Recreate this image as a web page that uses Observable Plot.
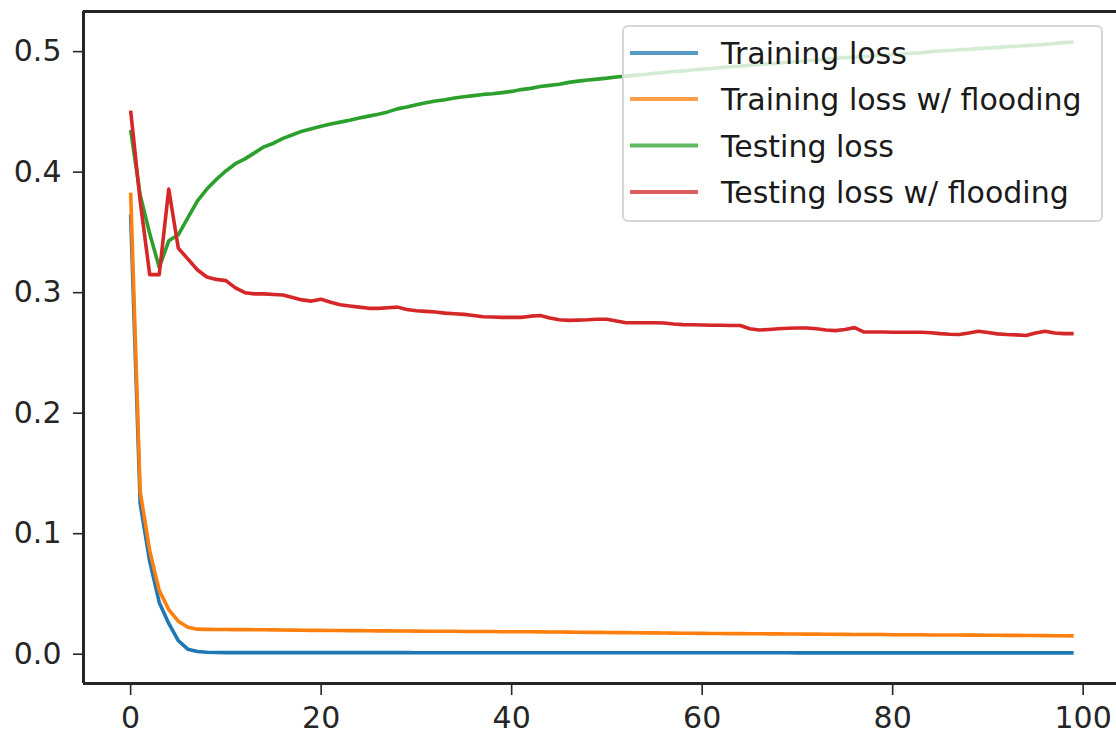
<!DOCTYPE html>
<html>
<head>
<meta charset="utf-8">
<script src="https://cdn.jsdelivr.net/npm/d3@7"></script>
<script src="https://cdn.jsdelivr.net/npm/@observablehq/plot@0.6"></script>
<style>
html, body { margin: 0; padding: 0; background: #fff; }
#wrap { position: relative; width: 1116px; height: 735px; overflow: hidden; font-family: "DejaVu Sans", sans-serif; }
#legend { position: absolute; left: 622px; top: 25px; }
</style>
</head>
<body>
<div id="wrap"></div>
<script>
// ---- data ----
const seriesNames = ["Training loss", "Training loss w/ flooding", "Testing loss", "Testing loss w/ flooding"];
const seriesColors = ["#1f77b4", "#ff7f0e", "#2ca02c", "#d62728"];
const xTicks = [0, 20, 40, 60, 80, 100];
const yTicks = [0.0, 0.1, 0.2, 0.3, 0.4, 0.5];
const xDomain = [-4.95, 103.5];
const yDomain = [-0.0243, 0.5333];

const trainLoss = [
  0.365, 0.125, 0.077, 0.043, 0.0255, 0.0112, 0.0042, 0.0022, 0.0016, 0.0014,
  0.0013, 0.0013, 0.0013, 0.0013, 0.0013, 0.0013, 0.0013, 0.0013, 0.0013, 0.0013,
  0.0013, 0.0013, 0.0013, 0.0013, 0.0013, 0.0013, 0.0013, 0.0013, 0.0013, 0.0013,
  0.0012, 0.0012, 0.0012, 0.0012, 0.0012, 0.0012, 0.0012, 0.0012, 0.0012, 0.0012,
  0.0012, 0.0012, 0.0012, 0.0012, 0.0012, 0.0012, 0.0012, 0.0012, 0.0012, 0.0012,
  0.0012, 0.0012, 0.0012, 0.0012, 0.0012, 0.0012, 0.0012, 0.0012, 0.0012, 0.0012,
  0.0012, 0.0012, 0.0012, 0.0012, 0.0012, 0.0012, 0.0012, 0.0012, 0.0012, 0.0012,
  0.0011, 0.0011, 0.0011, 0.0011, 0.0011, 0.0011, 0.0011, 0.0011, 0.0011, 0.0011,
  0.0011, 0.0011, 0.0011, 0.0011, 0.0011, 0.0011, 0.0011, 0.0011, 0.0011, 0.0011,
  0.0011, 0.0011, 0.0011, 0.0011, 0.0011, 0.0011, 0.0011, 0.0011, 0.0011, 0.0011
];
const trainFlood = [
  0.383, 0.135, 0.086, 0.053, 0.037, 0.0274, 0.0224, 0.0208, 0.0206, 0.0205,
  0.0205, 0.0204, 0.0204, 0.0203, 0.0203, 0.0202, 0.0201, 0.0200, 0.0199, 0.0198,
  0.0198, 0.0197, 0.0197, 0.0196, 0.0196, 0.0195, 0.0194, 0.0194, 0.0193, 0.0192,
  0.0192, 0.0191, 0.0191, 0.0190, 0.0190, 0.0189, 0.0189, 0.0188, 0.0188, 0.0187,
  0.0187, 0.0186, 0.0186, 0.0185, 0.0184, 0.0184, 0.0183, 0.0182, 0.0181, 0.0181,
  0.0180, 0.0179, 0.0179, 0.0178, 0.0177, 0.0177, 0.0176, 0.0175, 0.0174, 0.0174,
  0.0173, 0.0172, 0.0172, 0.0171, 0.0171, 0.0170, 0.0170, 0.0169, 0.0169, 0.0168,
  0.0168, 0.0167, 0.0167, 0.0166, 0.0166, 0.0165, 0.0164, 0.0164, 0.0163, 0.0163,
  0.0162, 0.0162, 0.0161, 0.0161, 0.0160, 0.0160, 0.0159, 0.0159, 0.0158, 0.0158,
  0.0157, 0.0157, 0.0156, 0.0156, 0.0155, 0.0155, 0.0154, 0.0153, 0.0153, 0.0152
];
const testLoss = [
  0.435, 0.381, 0.349, 0.321, 0.343, 0.348, 0.362, 0.376, 0.386, 0.394,
  0.401, 0.407, 0.411, 0.416, 0.421, 0.424, 0.428, 0.431, 0.434, 0.436,
  0.438, 0.440, 0.4415, 0.443, 0.445, 0.4465, 0.448, 0.450, 0.4525, 0.454,
  0.456, 0.4575, 0.459, 0.460, 0.4615, 0.4625, 0.4635, 0.4645, 0.465, 0.466,
  0.467, 0.4685, 0.4695, 0.471, 0.472, 0.473, 0.4745, 0.4755, 0.4765, 0.4772,
  0.478, 0.479, 0.4797, 0.4805, 0.481, 0.482, 0.4827, 0.4835, 0.484, 0.4848,
  0.4855, 0.486, 0.4867, 0.4875, 0.488, 0.4887, 0.4893, 0.490, 0.4905, 0.4912,
  0.4918, 0.4925, 0.493, 0.4937, 0.4945, 0.495, 0.4955, 0.496, 0.4966, 0.497,
  0.4976, 0.498, 0.4986, 0.499, 0.500, 0.5005, 0.501, 0.5015, 0.502, 0.5025,
  0.503, 0.5035, 0.504, 0.5045, 0.505, 0.5055, 0.506, 0.5068, 0.5075, 0.508
];
const testFlood = [
  0.451, 0.376, 0.315, 0.315, 0.386, 0.337, 0.328, 0.319, 0.313, 0.311,
  0.310, 0.304, 0.300, 0.299, 0.299, 0.2985, 0.298, 0.296, 0.294, 0.293,
  0.2945, 0.292, 0.290, 0.289, 0.288, 0.287, 0.287, 0.2875, 0.288, 0.286,
  0.285, 0.2845, 0.284, 0.283, 0.2825, 0.282, 0.281, 0.280, 0.2798, 0.2795,
  0.2795, 0.2795, 0.2805, 0.281, 0.279, 0.2775, 0.277, 0.2772, 0.2775, 0.278,
  0.278, 0.2765, 0.275, 0.275, 0.275, 0.275, 0.2748, 0.274, 0.2735, 0.2734,
  0.2732, 0.273, 0.273, 0.2728, 0.2728, 0.270, 0.269, 0.2695, 0.270, 0.2705,
  0.2707, 0.2707, 0.270, 0.269, 0.2685, 0.2695, 0.271, 0.2673, 0.2673, 0.2673,
  0.2672, 0.2672, 0.2672, 0.2672, 0.2668, 0.266, 0.2655, 0.2653, 0.2665, 0.268,
  0.267, 0.2658, 0.2653, 0.265, 0.2645, 0.2665, 0.268, 0.2665, 0.266, 0.266
];
const seriesValues = [trainLoss, trainFlood, testLoss, testFlood];

// ---- chart ----
const FS = 30;
const ink = "#262626";
const hasAxisMarks = typeof Plot.axisX === "function";

const lineMarks = seriesValues.map((vals, k) =>
  Plot.line(vals, {x: (d, i) => i, y: d => d, stroke: seriesColors[k], strokeWidth: 3.6, strokeLinejoin: "round", strokeLinecap: "butt"})
);

const frameMarks = [
  Plot.ruleX([xDomain[0]], {stroke: ink, strokeWidth: 3}),
  Plot.ruleY(yDomain, {stroke: ink, strokeWidth: 3})
];

const axisMarks = hasAxisMarks ? [
  Plot.axisX(xTicks, {anchor: "bottom", tickSize: 12, tickPadding: 11, stroke: ink, strokeWidth: 1.6, fill: ink, fontSize: FS, label: null, tickFormat: d3.format("d")}),
  Plot.axisY(yTicks, {anchor: "left", tickSize: 10, tickPadding: 12, stroke: ink, strokeWidth: 1.6, fill: ink, fontSize: FS, label: null, tickFormat: d3.format(".1f")})
] : [];

const chart = Plot.plot({
  width: 1116,
  height: 735,
  marginLeft: 83,
  marginRight: 0,
  marginTop: 11,
  marginBottom: 52,
  style: {fontFamily: "DejaVu Sans, sans-serif", fontSize: FS + "px", color: ink, background: "#fff", overflow: "visible"},
  x: hasAxisMarks ? {domain: xDomain} : {domain: xDomain, ticks: xTicks, tickSize: 12, tickPadding: 11, label: null, tickFormat: d3.format("d")},
  y: hasAxisMarks ? {domain: yDomain} : {domain: yDomain, ticks: yTicks, tickSize: 10, tickPadding: 12, label: null, tickFormat: d3.format(".1f")},
  marks: [...lineMarks, ...frameMarks, ...axisMarks]
});
document.getElementById("wrap").appendChild(chart);

// ---- legend (overlay, matplotlib style) ----
const lw = 481, lh = 197;
const legend = d3.select("#wrap").append("svg")
  .attr("id", "legend")
  .attr("width", lw).attr("height", lh)
  .style("font-family", "DejaVu Sans, sans-serif");
legend.append("rect")
  .attr("x", 1).attr("y", 1).attr("width", lw - 2).attr("height", lh - 2)
  .attr("rx", 5).attr("fill", "#fff").attr("fill-opacity", 0.8)
  .attr("stroke", "#d6d6d6").attr("stroke-width", 2);
const rowY = [28, 74, 120.5, 167];
const rows = legend.selectAll("g.row").data(seriesNames).join("g")
  .attr("class", "row")
  .attr("transform", (d, i) => `translate(0,${rowY[i]})`);
rows.append("line")
  .attr("x1", 8).attr("x2", 76).attr("y1", 0).attr("y2", 0)
  .attr("stroke", (d, i) => seriesColors[i]).attr("stroke-opacity", 0.75).attr("stroke-width", 4);
rows.append("text")
  .attr("x", 99).attr("y", 11)
  .attr("font-size", FS).attr("fill", "#1a1a1a")
  .text(d => d);
</script>
</body>
</html>
